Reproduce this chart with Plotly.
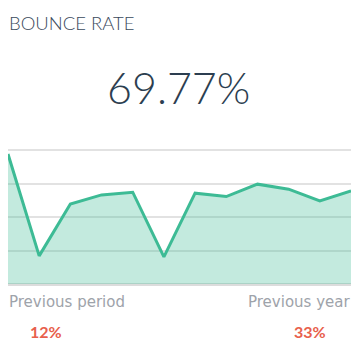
import plotly.graph_objects as go

periods = list(range(12))
bounce = [77.6, 16.8, 47.8, 53.2, 54.8, 16.2, 54.2, 52.2, 59.6, 56.6, 49.6, 55.6]
y_ticks = [0, 20, 40, 60, 80]

title = "BOUNCE RATE"
headline = "69.77%"
prev_labels = ["Previous period", "Previous year"]
prev_values = ["12%", "33%"]

W, H = 363, 354
L, R, T, B = 8, 12, 146, 70
PW, PH = W - L - R, H - T - B
y_top = 80 * PH / 134.0


def px(x):
    return (x - L) / PW


def py(y):
    return (H - B - y) / PH


fig = go.Figure()
fig.add_trace(go.Scatter(
    x=periods, y=bounce, mode="lines",
    line=dict(color="#3dbb95", width=3),
    fill="tozeroy", fillcolor="rgba(61,187,149,0.31)",
    hoverinfo="skip", cliponaxis=False,
))

fig.update_layout(
    width=W, height=H,
    margin=dict(l=L, r=R, t=T, b=B, pad=0),
    paper_bgcolor="white", plot_bgcolor="white",
    showlegend=False,
    xaxis=dict(range=[0, 11], showgrid=False, zeroline=False, showticklabels=False,
               showline=False, fixedrange=True),
    yaxis=dict(range=[0, y_top], tickvals=y_ticks, showgrid=True, gridcolor="#e2e2e2",
               gridwidth=1.5, zeroline=True, zerolinecolor="#dcdcdc", zerolinewidth=2.5,
               showticklabels=False, showline=False, fixedrange=True),
    font=dict(family="Lato, Open Sans, sans-serif"),
)


def add(text, x, y, anchor, size, color, family="Lato", weight=400):
    return dict(text=text, x=px(x), y=py(y), xref="paper", yref="paper",
                xanchor=anchor, yanchor="middle", showarrow=False,
                font=dict(size=size, color=color, family=family, weight=weight))


ann = [
    add(title, 7, 23, "left", 18.5, "#3a4a5c", "Lato", 300),
    add(headline, 178, 88, "center", 43, "#2c3e50", "Lato", 300),
    add(prev_labels[0], 7, 302, "left", 15, "#9ea3aa", "DejaVu Sans", 400),
    add(prev_labels[1], 352, 302, "right", 15, "#9ea3aa", "DejaVu Sans", 400),
    add(prev_values[0], 46, 331, "center", 16, "#e8604c", "Lato", 700),
    add(prev_values[1], 310, 331, "center", 16, "#e8604c", "Lato", 700),
]
fig.update_layout(annotations=ann)

fig.write_html("out.html", config={"displayModeBar": False})
